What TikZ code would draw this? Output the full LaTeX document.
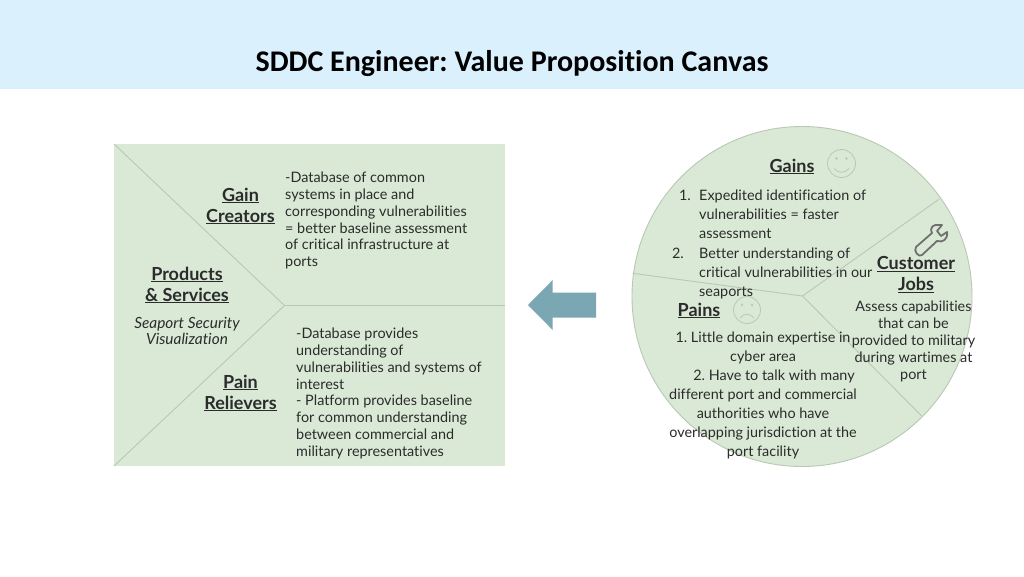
\documentclass[tikz,border=0pt]{standalone}
\usepackage{fontspec}
\setmainfont[Ligatures=NoCommon]{Lato}
\newfontfamily\titlefont[Ligatures=NoCommon]{Carlito}
\definecolor{panel}{HTML}{DAE9D6}
\definecolor{divider}{HTML}{B8C8B4}
\definecolor{band}{HTML}{DAF1FD}
\definecolor{ink}{HTML}{2B2B2B}
\definecolor{arrowc}{HTML}{7BA7B3}
\definecolor{icon}{HTML}{6F6F6F}
\tikzset{
  body/.style={font=\fontsize{14.4}{16.9}\selectfont,text=ink,inner sep=0pt,anchor=north west,align=left},
  bodyc/.style={font=\fontsize{14.4}{19.1}\selectfont,text=ink,inner sep=0pt,align=center},
  head/.style={font=\fontsize{18}{21}\selectfont\bfseries,text=ink,inner sep=0pt,align=center},
  rule/.style={draw=divider,line width=0.9pt},
  face/.style={draw=divider,line width=0.8pt}
}
\newcommand{\ul}[1]{\underline{#1}}
\frenchspacing
\begin{document}
\begin{tikzpicture}[x=1pt,y=-1pt]
\useasboundingbox (0,0) rectangle (1024,576);
\fill[white] (0,0) rectangle (1024,576);
\fill[band] (0,0) rectangle (1024,88.5);
\node[font=\titlefont\fontsize{30}{34}\selectfont\bfseries,text=black,inner sep=0pt] (title) at (512,64) {SDDC Engineer: Value Proposition Canvas};
% left canvas
\fill[panel] (114,144) rectangle (505,466);
\coordinate (hub) at (284.5,305.5);
\coordinate (tl) at (114,144);
\coordinate (bl) at (114,466);
\coordinate (rr) at (505,305.5);
\draw[rule] (tl) -- (hub) -- (bl);
\draw[rule] (hub) -- (rr);
\node[head] (gc) at (240.5,206) {\ul{Gain}\\\ul{Creators}};
\node[head] (ps) at (187,285) {\ul{Products}\\\ul{\& Services}};
\node[head] (pr) at (240.5,393) {\ul{Pain}\\\ul{Relievers}};
\node[font=\fontsize{15.4}{16}\selectfont\itshape,text=ink,inner sep=0pt,align=center] (sv) at (187,331) {Seaport Security\\Visualization};
\node[body] (gct) at (285,171.5) {-Database of common\\systems in place and\\corresponding vulnerabilities\\= better baseline assessment\\of critical infrastructure at\\ports};
\node[body] (prt) at (296,327.5) {-Database provides\\understanding of\\vulnerabilities and systems of\\interest\\- Platform provides baseline\\for common understanding\\between commercial and\\military representatives};
% arrow
\fill[arrowc] (528,305) -- (552.7,280) -- (552.7,292.7) -- (596,292.7) -- (596,317.7) -- (552.7,317.7) -- (552.7,330) -- cycle;
% right circle
\coordinate (c) at (802,296.5);
\fill[panel] (c) circle (170);
\draw[rule] (c) circle (170);
\coordinate (h2) at (802.5,296);
\coordinate (a1) at (632.7,273.3);
\coordinate (a2) at (939.3,199);
\coordinate (a3) at (921.7,416);
\draw[rule] (a1) -- (h2) -- (a2);
\draw[rule] (h2) -- (a3);
\node[head] (gains) at (792,166.5) {\ul{Gains}};
\node[head] (pains) at (699,310.5) {\ul{Pains}};
\node[head] (cj) at (916,274.5) {\ul{Customer}\\\ul{Jobs}};
% smile
\draw[face] (841.5,163.5) circle (14);
\fill[divider] (836.5,158.5) circle (1.3) (846.5,158.5) circle (1.3);
\draw[face] (834,168.5) .. controls (838,173.5) and (845,173.5) .. (849,168.5);
% frown
\draw[face] (747,310) circle (13.5);
\fill[divider] (742,305) circle (1.3) (752,305) circle (1.3);
\draw[face] (740,318) .. controls (744,313) and (750,313) .. (754,318);
% wrench
\draw[icon,line width=1.8pt,line join=round,fill=none]
 (916,247) -- (932,233) .. controls (929,227) and (934,224) .. (939,225)
 -- (942,225) -- (937,231) -- (941,236) -- (947,232)
 .. controls (948,239) and (943,243) .. (937,241) -- (922,255)
 .. controls (919,258) and (913,251) .. (916,247) -- cycle;
% lists
\node[body,font=\fontsize{14.4}{19.1}\selectfont,anchor=north east] (n1) at (691,189.5) {1.};
\node[body,font=\fontsize{14.4}{19.1}\selectfont] (g1) at (699,189.5) {Expedited identification of\\vulnerabilities = faster\\assessment};
\node[body,font=\fontsize{14.4}{19.1}\selectfont,anchor=north east] (n2) at (684,247.5) {2.};
\node[body,font=\fontsize{14.4}{19.1}\selectfont] (g2) at (699,247.5) {Better understanding of\\critical vulnerabilities in our\\seaports};
\node[bodyc] (pt) at (763,395.5) {1. Little domain expertise in\\cyber area\\\hspace*{22pt}2. Have to talk with many\\different port and commercial\\authorities who have\\overlapping jurisdiction at the\\port facility};
\node[bodyc,font=\fontsize{14.4}{17}\selectfont] (cjt) at (913.5,341) {Assess capabilities\\that can be\\provided to military\\during wartimes at\\port};
\end{tikzpicture}
\end{document}
